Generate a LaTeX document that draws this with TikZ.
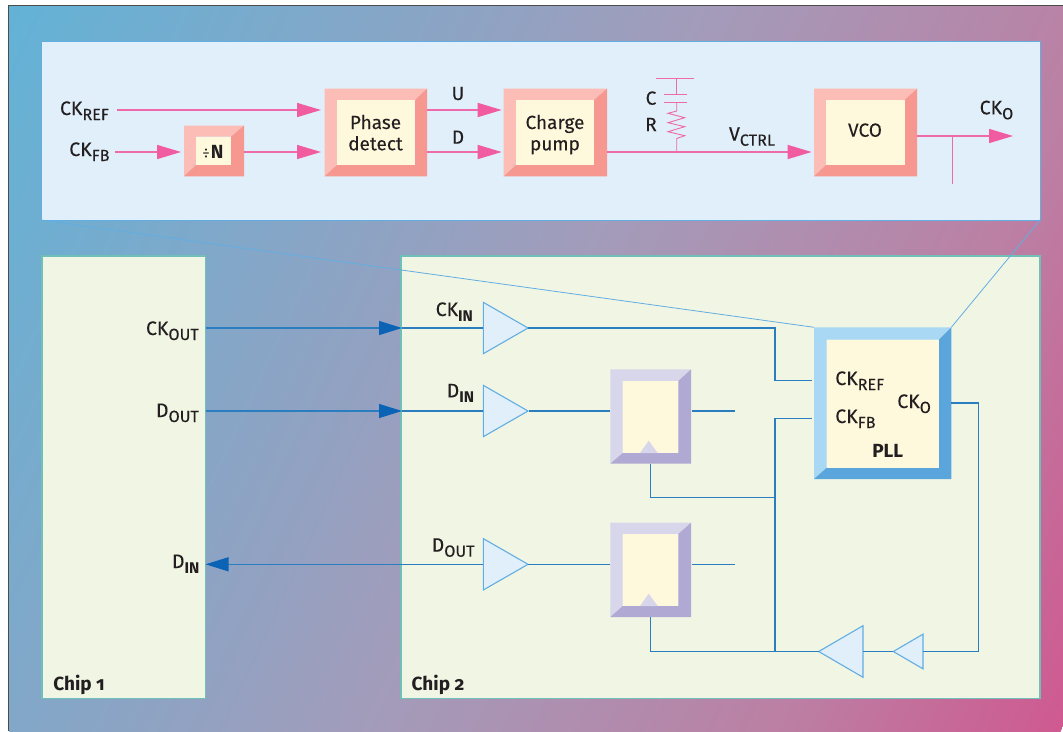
\documentclass[tikz,border=0pt]{standalone}
\usepackage{fontspec}
\setmainfont{Fira Sans}[UprightFeatures={FakeBold=0.15}]
\newfontfamily\plainfira{Fira Sans}
\usetikzlibrary{arrows.meta,shapes.geometric,fit}
\definecolor{inkc}{HTML}{231F20}
\definecolor{panelc}{HTML}{E0EFFA}
\definecolor{panelb}{HTML}{62AEE3}
\definecolor{chipc}{HTML}{F1F5E4}
\definecolor{chipb}{HTML}{6EC0B8}
\definecolor{creamc}{HTML}{FEF8DC}
\definecolor{pinkl}{HTML}{FBBDB5}
\definecolor{pinkd}{HTML}{F69790}
\definecolor{lavl}{HTML}{D8D6EA}
\definecolor{lavd}{HTML}{AFA9D3}
\definecolor{bluel}{HTML}{A8D8F3}
\definecolor{blued}{HTML}{5AA6DC}
\definecolor{sigp}{HTML}{EE6AAA}
\definecolor{headp}{HTML}{F15BA0}
\definecolor{sigb}{HTML}{2A7DBE}
\definecolor{headb}{HTML}{0A63B5}
\pgfdeclarehorizontalshading{bgfade}{1700bp}{rgb(0bp)=(0.385,0.70,0.84); rgb(630bp)=(0.64,0.61,0.73); rgb(1000bp)=(0.735,0.50,0.64); rgb(1255bp)=(0.81,0.35,0.565)}
\newcommand\base[1]{\fontsize{19}{21}\selectfont #1}
\newcommand\lsub[2]{{\fontsize{19.5}{21}\selectfont #1\raisebox{-5pt}{\fontsize{16.2}{16}\selectfont #2}}}
\newcommand\bsub[2]{{\fontsize{19.5}{21}\selectfont #1\raisebox{-5pt}{\fontsize{15.5}{16}\selectfont\bfseries #2}}}
% name, outer a, outer b, inner a, inner b, light, dark
\newcommand\bevelbox[7]{%
  \coordinate (#1-oa) at (#2); \coordinate (#1-ob) at (#3);
  \coordinate (#1-ia) at (#4); \coordinate (#1-ib) at (#5);
  \fill[#6] (#1-oa) -- (#1-oa -| #1-ob) -- (#1-ia -| #1-ib) -- (#1-ia) -- (#1-ib -| #1-ia) -- (#1-ob -| #1-oa) -- cycle;
  \fill[#7] (#1-ob) -- (#1-oa -| #1-ob) -- (#1-ia -| #1-ib) -- (#1-ib) -- (#1-ib -| #1-ia) -- (#1-ob -| #1-oa) -- cycle;
  \fill[creamc] (#1-ia) rectangle (#1-ib);
  \node[inner sep=0pt,outer sep=0pt,fit=(#1-oa)(#1-ob)] (#1) {};
}
\tikzset{
  x=1pt,y=-1pt,
  lab/.style={inner sep=0pt,outer sep=0pt,anchor=base west,text=inkc},
  labc/.style={inner sep=0pt,outer sep=0pt,anchor=base,text=inkc,font=\base},
  pinkw/.style={draw=sigp,line width=1.5pt},
  pinkarrow/.style={pinkw,-{Triangle[length=24pt,width=14pt,color=headp]}},
  thinp/.style={draw=sigp,line width=0.9pt},
  bluew/.style={draw=sigb,line width=1.1pt},
  bluearrow/.style={bluew,-{Triangle[length=23pt,width=14pt,color=headb]}},
  bufr/.style={isosceles triangle,isosceles triangle stretches,inner sep=0pt,outer sep=0pt,draw=panelb,fill=panelc,line width=1.1pt,anchor=apex},
  zoomline/.style={draw=panelb,line width=0.8pt},
  chipbox/.style={fill=chipc,draw=chipb,line width=1.3pt},
}
\begin{document}
\begin{tikzpicture}
\useasboundingbox (0,0) rectangle (1063,731);
\fill[white] (0,0) rectangle (1063,731);
\begin{scope}
  \clip (9,6) rectangle (1063,731);
  \node[rotate=-25,inner sep=0pt,outer sep=0pt,anchor=west] (bg) at (9,6) {\pgfuseshading{bgfade}};
\end{scope}
\coordinate (fbl) at (8.7,731); \coordinate (ftl) at (8.7,5.7); \coordinate (ftr) at (1063,5.7);
\draw[draw=black!70,line width=1.4pt] (fbl) -- (ftl) -- (ftr);

% panels
\node[inner sep=0pt,outer sep=0pt,minimum width=999pt,minimum height=179pt,anchor=north west,fill=panelc,draw=panelb,line width=1pt] (panel) at (41,41) {};
\node[inner sep=0pt,outer sep=0pt,minimum width=163.5pt,minimum height=442.5pt,anchor=north west,chipbox] (chipa) at (42,256) {};
\node[inner sep=0pt,outer sep=0pt,minimum width=639pt,minimum height=442.5pt,anchor=north west,chipbox] (chipb) at (401,256) {};

% top blocks
\bevelbox{divn}{184,125.5}{244,176.3}{196,136.7}{231,165}{pinkl}{pinkd}
\bevelbox{phase}{324.5,88.7}{427,176.3}{337,100}{415,165}{pinkl}{pinkd}
\bevelbox{pump}{503.7,88.7}{607,176.3}{516,100}{594,165}{pinkl}{pinkd}
\bevelbox{vco}{814,88.7}{917,176.3}{826,100}{904.5,165}{pinkl}{pinkd}
\node[labc] (divt) at (213,158) {{\plainfira\fontsize{15}{15}\selectfont ÷}\kern1pt\textbf{N}};
\node[labc] (pha1) at (375.5,129) {Phase};
\node[labc] (pha2) at (375.5,150.3) {detect};
\node[labc] (pum1) at (555,129) {Charge};
\node[labc] (pum2) at (555,150.3) {pump};
\node[labc] (vcot) at (865,136.7) {VCO};

% top labels
\node[lab] (tckref) at (60,115) {\lsub{CK}{REF}};
\node[lab] (tckfb) at (69.3,156) {\lsub{CK}{FB}};
\node[labc] (tu) at (458,100) {U};
\node[labc] (td) at (458,143.7) {D};
\node[labc] (tc) at (651,104.7) {C};
\node[labc] (tr) at (651,131) {R};
\node[lab] (tv) at (729,140.7) {\lsub{V}{CTRL}};
\node[lab] (tcko) at (979.7,114.3) {\lsub{CK}{O}};

% top connectors
\coordinate (refs) at (116.6,110);
\coordinate (fbs) at (115,152);
\coordinate (ckoe) at (1013,136);
\coordinate (ctap) at (676.7,152);
\coordinate (ctop) at (676.7,78);
\coordinate (tapo) at (952.5,136);
\coordinate (tape) at (952.5,183.7);
\draw[pinkarrow,shorten >=3.5pt] (refs) -- (refs -| phase.west);
\draw[pinkarrow,shorten >=3pt] (fbs) -- (fbs -| divn.west);
\draw[pinkarrow,shorten >=3.5pt] (fbs -| divn.east) -- (fbs -| phase.west);
\draw[pinkarrow,shorten >=2pt] (refs -| phase.east) -- (refs -| pump.west);
\draw[pinkarrow,shorten >=2pt] (fbs -| phase.east) -- (fbs -| pump.west);
\draw[pinkarrow,shorten >=2.4pt] (fbs -| pump.east) -- (fbs -| vco.west);
\draw[pinkarrow] (tapo -| vco.east) -- (ckoe);
\draw[thinp] (tapo) -- (tape);
\coordinate (capa) at (664,94); \coordinate (capb) at (686.7,94);
\coordinate (capc) at (664,102); \coordinate (capd) at (686.7,102);
\coordinate (topa) at (656,78); \coordinate (topb) at (694.3,78);
\draw[thinp] (topa) -- (topb);
\draw[thinp] (capa) -- (capb);
\draw[thinp] (capc) -- (capd);
\draw[thinp] (ctop) -- (ctop |- capa);
\draw[thinp] (ctop |- capc) -- (676.7,111) -- (668,113.3) -- (684.7,117.7) -- (668,122.7) -- (684.7,126.7) -- (668,131.7) -- (684.7,135.7) -- (676.7,138.5) -- (ctap);

% chip 2 blocks
\bevelbox{pll}{814,327.3}{951.3,479}{826.7,339.7}{939,467.7}{bluel}{blued}
\bevelbox{ffa}{610.3,369.3}{691,463.7}{622.7,381}{678.3,453}{lavl}{lavd}
\bevelbox{ffb}{610.3,522.7}{691,617}{622.7,534}{678.3,606}{lavl}{lavd}
\coordinate (tra) at (640,453); \coordinate (trb) at (657.7,453); \coordinate (trc) at (648.7,440.7);
\coordinate (tsa) at (640,606); \coordinate (tsb) at (657.7,606); \coordinate (tsc) at (648.7,593.7);
\fill[lavl] (tra) -- (trb) -- (trc) -- cycle;
\fill[lavl] (tsa) -- (tsb) -- (tsc) -- cycle;

% buffers
\node[bufr,minimum height=44.7pt,minimum width=51.4pt] (bufa) at (528,328) {};
\node[bufr,minimum height=44.7pt,minimum width=51.4pt] (bufb) at (528,411) {};
\node[bufr,minimum height=44.7pt,minimum width=51.4pt] (bufc) at (528,564.3) {};
\node[bufr,shape border rotate=180,minimum height=44.3pt,minimum width=51.6pt] (bufd) at (818.7,651.5) {};
\node[bufr,shape border rotate=180,minimum height=29.7pt,minimum width=34.7pt] (bufe) at (893.3,651.5) {};

% off-chip connectors
\coordinate (oa) at (205.7,328); \coordinate (ob) at (205.7,411); \coordinate (oc) at (205.7,564.3);
\coordinate (pa) at (402,328); \coordinate (pb) at (402,411);
\draw[bluearrow] (chipa.east |- oa) -- (pa);
\draw[bluearrow] (chipa.east |- ob) -- (pb);
\draw[bluew] (pa) -- (bufa.lower side);
\draw[bluew] (pb) -- (bufb.lower side);
\draw[bluearrow] (bufc.lower side) -- (chipa.east |- oc);

% chip 2 connectors
\coordinate (xa) at (775,380.5); \coordinate (xb) at (775,418.7); \coordinate (xc) at (775,497.6); \coordinate (xd) at (775,651);
\coordinate (ckoa) at (978.3,403);
\coordinate (loop) at (650.7,651.5);
\coordinate (ffaout) at (735.3,411);
\coordinate (ffbout) at (735.3,564.3);
\coordinate (ffin) at (811.7,380.5);
\coordinate (ffinb) at (811.7,418.7);
\draw[bluew] (bufa.apex) -| (xa) -- (ffin);
\draw[bluew] (ffinb) -- (xb) -- (xd);
\draw[bluew,shorten <=1pt] (bufb.apex) -- (bufb.apex -| ffa.west);
\draw[bluew] (bufc.apex) -- (bufc.apex -| ffb.west);
\draw[bluew,shorten <=1pt] (ffa.east |- ffaout) -- (ffaout);
\draw[bluew,shorten <=1pt] (ffb.east |- ffbout) -- (ffbout);
\draw[bluew] (ffa.south -| loop) -- (loop |- xc) -- (xc);
\draw[bluew] (ffb.south -| loop) -- (loop) -- (bufd.apex);
\draw[bluew] (bufd.lower side) -- (bufe.apex);
\draw[bluew] (pll.east |- ckoa) -- (ckoa) |- (bufe.lower side);

% zoom lines
\draw[zoomline] (panel.south west) -- (pll.north west);
\draw[zoomline] (panel.south east) -- (pll.north east);

% chip labels
\node[lab] (ckouta) at (146,335) {\lsub{CK}{OUT}};
\node[lab] (douta) at (156,417) {\lsub{D}{OUT}};
\node[lab] (dina) at (172,568) {\bsub{D}{IN}};
\node[lab,font=\base\bfseries] (chip1) at (53.3,690.7) {Chip \addfontfeatures{Numbers=OldStyle}1};
\node[lab,font=\base\bfseries] (chip2) at (411.7,690.7) {Chip \addfontfeatures{Numbers=OldStyle}2};
\node[lab] (ckinb) at (435.7,316) {\bsub{CK}{IN}};
\node[lab] (dinb) at (446.7,397.3) {\bsub{D}{IN}};
\node[lab] (doutb) at (431.7,551.7) {\lsub{D}{OUT}};
\node[lab] (pref) at (835.3,385) {\lsub{CK}{REF}};
\node[lab] (pfb) at (835.3,423) {\lsub{CK}{FB}};
\node[lab] (pcko) at (897.3,408) {\lsub{CK}{O}};
\node[lab,font=\base\bfseries] (pllt) at (872.3,457.7) {PLL};
\end{tikzpicture}
\end{document}
